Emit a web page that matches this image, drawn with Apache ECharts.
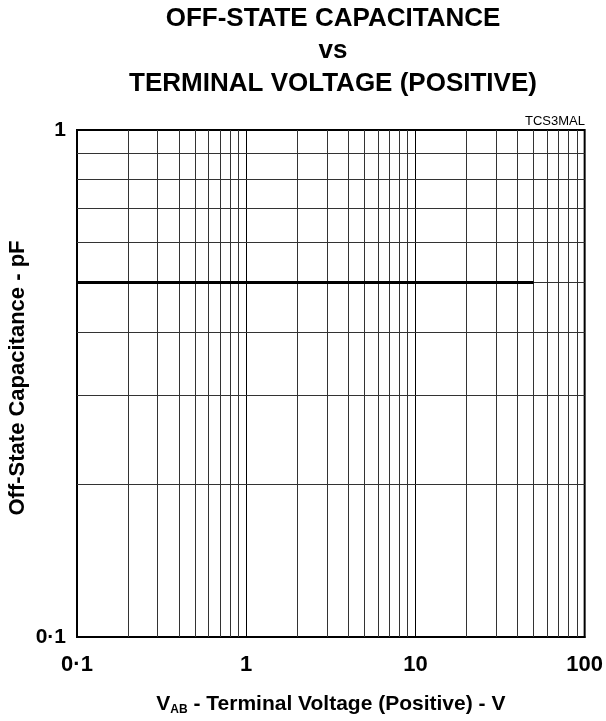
<!DOCTYPE html>
<html>
<head>
<meta charset="utf-8">
<script src="https://cdn.jsdelivr.net/npm/echarts@6/dist/echarts.min.js"></script>
<style>
  html, body { margin: 0; padding: 0; background: #fff; }
  #chart { width: 606px; height: 721px; }
</style>
</head>
<body>
<div id="chart"></div>
<script>
// measured curve: off-state capacitance vs terminal voltage
const voltage = [0.1, 50]
const capacitance = [0.5, 0.5]

// minor grid positions (log decades)
const xMinorGrid = [0.2, 0.3, 0.4, 0.5, 0.6, 0.7, 0.8, 0.9, 2, 3, 4, 5, 6, 7, 8, 9, 20, 30, 40, 50, 60, 70, 80, 90]
const yMinorGrid = [0.2, 0.3, 0.4, 0.5, 0.6, 0.7, 0.8, 0.9]

const titleLines = ['OFF-STATE CAPACITANCE', 'vs', 'TERMINAL VOLTAGE (POSITIVE)']
const titleY = [19, 51, 84]

const fontFam = '"Liberation Sans", Arial, sans-serif'

let chart = echarts.init(document.getElementById('chart'))

let gridLines = []
xMinorGrid.forEach(v => gridLines.push({ xAxis: v }))
yMinorGrid.forEach(v => gridLines.push({ yAxis: v }))

// title lines are centred over the plot, not the page
let graphics = titleLines.map((t, i) => ({
  type: 'text',
  x: 333,
  y: titleY[i],
  style: {
    text: t,
    font: 'bold 26px ' + fontFam,
    fill: '#000',
    align: 'center',
    verticalAlign: 'middle'
  }
}))
graphics.push({
  type: 'text',
  x: 585,
  y: 121,
  style: {
    text: 'TCS3MAL',
    font: '13px ' + fontFam,
    fill: '#000',
    align: 'right',
    verticalAlign: 'middle'
  }
})
graphics.push({
  type: 'text',
  x: 18,
  y: 378,
  rotation: Math.PI / 2,
  style: {
    text: 'Off-State Capacitance - pF',
    font: 'bold 22px ' + fontFam,
    fill: '#000',
    align: 'center',
    verticalAlign: 'middle'
  }
})

chart.setOption({
  animation: false,
  backgroundColor: '#fff',
  graphic: graphics,
  grid: {
    left: 77,
    right: 18,
    top: 130,
    bottom: 79,
    show: true,
    borderColor: '#000',
    borderWidth: 2
  },
  xAxis: {
    type: 'log',
    min: 0.1,
    max: 100,
    logBase: 10,
    name: '{v|V}{sub|AB}{t| - Terminal Voltage (Positive) - V}',
    nameLocation: 'middle',
    nameGap: 55,
    nameTextStyle: {
      rich: {
        v: { fontFamily: fontFam, fontSize: 21, fontWeight: 'bold', color: '#000' },
        sub: { fontFamily: fontFam, fontSize: 12, fontWeight: 'bold', color: '#000', verticalAlign: 'bottom', padding: [12, 0, 0, 0] },
        t: { fontFamily: fontFam, fontSize: 21, fontWeight: 'bold', color: '#000' }
      }
    },
    axisLine: { show: true, lineStyle: { color: '#000', width: 2 } },
    axisTick: { show: false },
    axisLabel: {
      margin: 17,
      fontFamily: fontFam,
      fontSize: 22,
      fontWeight: 'bold',
      color: '#000',
      formatter: v => String(v).replace('.', '·')
    },
    splitLine: { show: true, lineStyle: { color: '#000', width: 1 } }
  },
  yAxis: {
    type: 'log',
    min: 0.1,
    max: 1,
    logBase: 10,
    axisLine: { show: true, lineStyle: { color: '#000', width: 2 } },
    axisTick: { show: false },
    axisLabel: {
      margin: 11,
      fontFamily: fontFam,
      fontSize: 21,
      fontWeight: 'bold',
      color: '#000',
      formatter: v => String(v).replace('.', '·')
    },
    splitLine: { show: true, lineStyle: { color: '#000', width: 1 } }
  },
  series: [
    {
      type: 'line',
      data: voltage.map((v, i) => [v, capacitance[i]]),
      symbol: 'none',
      lineStyle: { color: '#000', width: 3 },
      z: 5,
      markLine: {
        silent: true,
        symbol: 'none',
        label: { show: false },
        lineStyle: { color: '#333', width: 1, type: 'solid' },
        data: gridLines,
        z: 1
      }
    }
  ]
})
</script>
</body>
</html>
